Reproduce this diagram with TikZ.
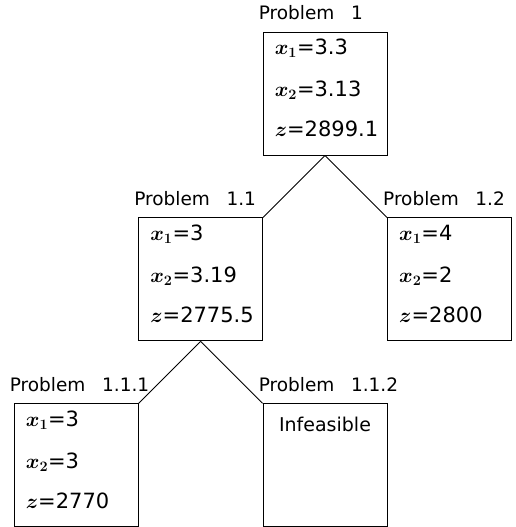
\documentclass[tikz,border=0pt]{standalone}
\usepackage{amsmath}
\usepackage{bm}
\usepackage{fontspec}
\setmainfont{DejaVu Sans}
\usetikzlibrary{positioning}

\begin{document}
\begin{tikzpicture}[
    box/.style={draw, line width=0.9pt, minimum width=124pt, minimum height=123pt, inner sep=0pt},
    title/.style={font=\fontsize{18.5}{21}\selectfont, inner sep=0pt, anchor=base west},
    val/.style={font=\fontsize{21}{24}\selectfont, inner sep=0pt, anchor=base west},
    edge/.style={line width=0.9pt}
  ]
  \useasboundingbox (0,0) rectangle (516pt,527pt);

  % the boxes of the tree
  \node[box] (p1) at (325pt,433.5pt) {};
  \node[box, below left=62pt and 62pt of p1.south] (p11) {};
  \node[box, below right=62pt and 62pt of p1.south] (p12) {};
  \node[box, below left=62pt and 62pt of p11.south] (p111) {};
  \node[box, below right=62pt and 62pt of p11.south] (p112) {};

  % titles above the boxes
  \node[title, above right=12pt and -4pt of p1.north west, anchor=base west] (t1) {Problem\hspace{0.9em}1};
  \node[title, above right=12pt and -4pt of p11.north west, anchor=base west] (t11) {Problem\hspace{0.9em}1.1};
  \node[title, above right=12pt and -4pt of p12.north west, anchor=base west] (t12) {Problem\hspace{0.9em}1.2};
  \node[title, above right=12pt and -4pt of p111.north west, anchor=base west] (t111) {Problem\hspace{0.9em}1.1.1};
  \node[title, above right=12pt and -4pt of p112.north west, anchor=base west] (t112) {Problem\hspace{0.9em}1.1.2};

  % values inside
  \node[val, below right=23pt and 12pt of p1.north west, anchor=base west] (p1a) {$\bm{x_1}$=3.3};
  \node[val, below right=65pt and 12pt of p1.north west, anchor=base west] (p1b) {$\bm{x_2}$=3.13};
  \node[val, below right=105pt and 12pt of p1.north west, anchor=base west] (p1c) {$\bm{z}$=2899.1};

  \node[val, below right=23pt and 12pt of p11.north west, anchor=base west] (p11a) {$\bm{x_1}$=3};
  \node[val, below right=65pt and 12pt of p11.north west, anchor=base west] (p11b) {$\bm{x_2}$=3.19};
  \node[val, below right=105pt and 12pt of p11.north west, anchor=base west] (p11c) {$\bm{z}$=2775.5};

  \node[val, below right=23pt and 12pt of p12.north west, anchor=base west] (p12a) {$\bm{x_1}$=4};
  \node[val, below right=65pt and 12pt of p12.north west, anchor=base west] (p12b) {$\bm{x_2}$=2};
  \node[val, below right=105pt and 12pt of p12.north west, anchor=base west] (p12c) {$\bm{z}$=2800};

  \node[val, below right=23pt and 12pt of p111.north west, anchor=base west] (p111a) {$\bm{x_1}$=3};
  \node[val, below right=65pt and 12pt of p111.north west, anchor=base west] (p111b) {$\bm{x_2}$=3};
  \node[val, below right=105pt and 12pt of p111.north west, anchor=base west] (p111c) {$\bm{z}$=2770};

  \node[title, font=\fontsize{19}{22}\selectfont, below=28pt of p112.north, anchor=base] (p112a) {Infeasible};

  % branches
  \draw[edge] (p1.south) -- (p11.north east);
  \draw[edge] (p1.south) -- (p12.north west);
  \draw[edge] (p11.south) -- (p111.north east);
  \draw[edge] (p11.south) -- (p112.north west);
\end{tikzpicture}
\end{document}
